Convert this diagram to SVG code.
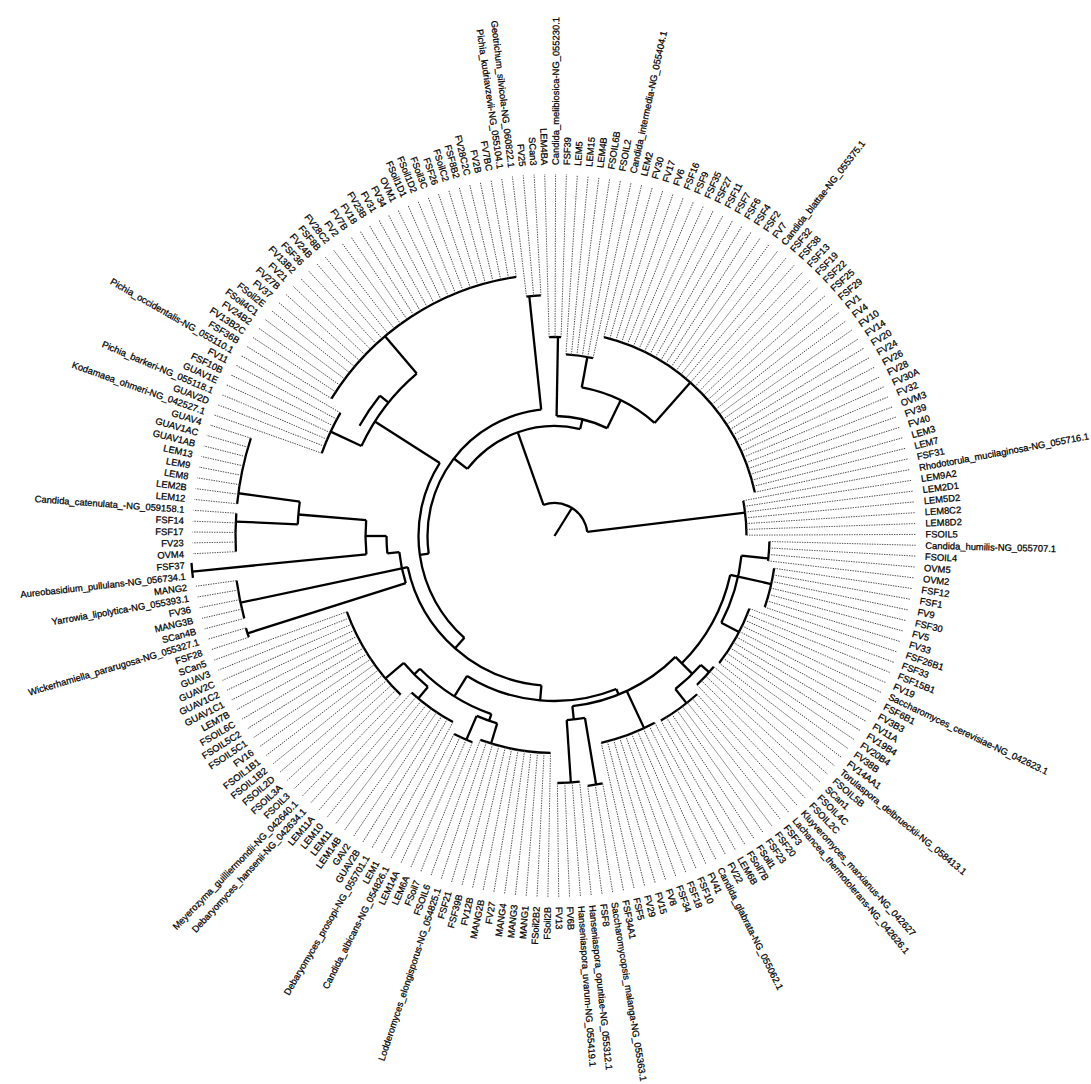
<svg xmlns="http://www.w3.org/2000/svg" width="1091" height="1084" viewBox="0 0 1091 1084">
<style>
.b{stroke:#000;stroke-width:2.3;fill:none}
.d{stroke:#444;stroke-width:0.9;stroke-dasharray:1.4 1.1}
text{font-family:"Liberation Sans",Arial,sans-serif;font-size:9.4px;fill:#000;stroke:#000;stroke-width:0.25}
.l{text-anchor:end}
</style>
<rect width="1091" height="1084" fill="#fff"/>
<g transform="translate(554.5,536)">
<g id="connectors" class="b">
<line x2="33" transform="rotate(-58)"/>
<circle r="33" pathLength="360" stroke-dasharray="103 400" transform="rotate(-110)"/>
<line x1="33" x2="192" transform="rotate(-7)"/>
<circle r="192" pathLength="360" stroke-dasharray="10.34 400" transform="rotate(-10.59)"/>
<line x1="33" x2="110" transform="rotate(-109.5)"/>
<circle r="110" pathLength="360" stroke-dasharray="65.9 400" transform="rotate(-142.4)"/>
<line x1="110" x2="120" transform="rotate(-76.5)"/>
<circle r="120" pathLength="360" stroke-dasharray="25 400" transform="rotate(-89)"/>
<line x1="120" x2="199" transform="rotate(-89)"/>
<circle r="199" pathLength="360" stroke-dasharray="3.44 400" transform="rotate(-91.55)"/>
<line x1="120" x2="151" transform="rotate(-64)"/>
<circle r="151" pathLength="360" stroke-dasharray="31.1 400" transform="rotate(-79.6)"/>
<line x1="151" x2="182" transform="rotate(-79.6)"/>
<circle r="182" pathLength="360" stroke-dasharray="8.61 400" transform="rotate(-86.38)"/>
<line x1="151" x2="205" transform="rotate(-48.5)"/>
<circle r="205" pathLength="360" stroke-dasharray="63.74 400" transform="rotate(-76.05)"/>
<line x1="110" x2="127" transform="rotate(-142.4)"/>
<circle r="127" pathLength="360" stroke-dasharray="92 400" transform="rotate(172)"/>
<line x1="127" x2="241" transform="rotate(-96)"/>
<circle r="241" pathLength="360" stroke-dasharray="3.45 400" transform="rotate(263.32)"/>
<line x1="127" x2="136" transform="rotate(172)"/>
<circle r="136" pathLength="360" stroke-dasharray="81 400" transform="rotate(131.5)"/>
<line x1="136" x2="213" transform="rotate(212.5)"/>
<circle r="213" pathLength="360" stroke-dasharray="24.7 400" transform="rotate(205)"/>
<line x1="213" x2="247" transform="rotate(205)"/>
<circle r="247" pathLength="360" stroke-dasharray="10.34 400" transform="rotate(199.58)"/>
<line x1="213" x2="262" transform="rotate(229.7)"/>
<circle r="262" pathLength="360" stroke-dasharray="49.96 400" transform="rotate(211.64)"/>
<line x1="213" x2="224" transform="rotate(218.8)"/>
<circle r="224" pathLength="360" stroke-dasharray="9.3 400" transform="rotate(209.5)"/>
<line x1="136" x2="150" transform="rotate(131.5)"/>
<circle r="150" pathLength="360" stroke-dasharray="73 400" transform="rotate(95)"/>
<line x1="150" x2="321" transform="rotate(168)"/>
<circle r="156" pathLength="360" stroke-dasharray="11.7 400" transform="rotate(162.4)"/>
<line x1="156" x2="322" transform="rotate(162.4)"/>
<circle r="322" pathLength="360" stroke-dasharray="1.73 400" transform="rotate(161.68)"/>
<circle r="321" pathLength="360" stroke-dasharray="6.89 400" transform="rotate(165.13)"/>
<line x1="156" x2="168" transform="rotate(174.1)"/>
<circle r="168" pathLength="360" stroke-dasharray="5.9 400" transform="rotate(174.1)"/>
<line x1="168" x2="189" transform="rotate(180)"/>
<circle r="189" pathLength="360" stroke-dasharray="10.4 400" transform="rotate(174.4)"/>
<line x1="189" x2="364" transform="rotate(174.4)"/>
<circle r="364" pathLength="360" stroke-dasharray="2.4 400" transform="rotate(173.4)"/>
<line x1="189" x2="257" transform="rotate(184.8)"/>
<circle r="257" pathLength="360" stroke-dasharray="5.1 400" transform="rotate(182.6)"/>
<line x1="257" x2="319" transform="rotate(182.6)"/>
<line x1="257" x2="319" transform="rotate(187.7)"/>
<circle r="319" pathLength="360" stroke-dasharray="6.89 400" transform="rotate(177.19)"/>
<circle r="319" pathLength="360" stroke-dasharray="12.06 400" transform="rotate(185.8)"/>
<line x1="150" x2="165" transform="rotate(95)"/>
<circle r="165" pathLength="360" stroke-dasharray="54 400" transform="rotate(68)"/>
<line x1="165" x2="189" transform="rotate(122)"/>
<circle r="189" pathLength="360" stroke-dasharray="25.9 400" transform="rotate(109.5)"/>
<line x1="189" x2="197" transform="rotate(135.4)"/>
<circle r="197" pathLength="360" stroke-dasharray="9.9 400" transform="rotate(130)"/>
<line x1="197" x2="221" transform="rotate(139.9)"/>
<circle r="221" pathLength="360" stroke-dasharray="25.84 400" transform="rotate(134.12)"/>
<line x1="197" x2="212" transform="rotate(130)"/>
<circle r="212" pathLength="360" stroke-dasharray="13.79 400" transform="rotate(118.61)"/>
<line x1="189" x2="196" transform="rotate(109.5)"/>
<circle r="196" pathLength="360" stroke-dasharray="6.4 400" transform="rotate(107)"/>
<line x1="196" x2="222" transform="rotate(113.4)"/>
<circle r="222" pathLength="360" stroke-dasharray="5.17 400" transform="rotate(111.72)"/>
<line x1="196" x2="217" transform="rotate(107)"/>
<circle r="217" pathLength="360" stroke-dasharray="18.95 400" transform="rotate(91.05)"/>
<line x1="165" x2="171" transform="rotate(68)"/>
<circle r="171" pathLength="360" stroke-dasharray="39 400" transform="rotate(45)"/>
<line x1="171" x2="184.5" transform="rotate(84)"/>
<circle r="184.5" pathLength="360" stroke-dasharray="5.7 400" transform="rotate(80.5)"/>
<line x1="184.5" x2="247" transform="rotate(86.2)"/>
<circle r="247" pathLength="360" stroke-dasharray="5.17 400" transform="rotate(84.16)"/>
<line x1="184.5" x2="252" transform="rotate(80.5)"/>
<circle r="252" pathLength="360" stroke-dasharray="3.45 400" transform="rotate(78.99)"/>
<line x1="171" x2="212" transform="rotate(65)"/>
<circle r="212" pathLength="360" stroke-dasharray="15.5 400" transform="rotate(61.77)"/>
<line x1="171" x2="195" transform="rotate(45)"/>
<circle r="180" pathLength="360" stroke-dasharray="32.5 400" transform="rotate(12.5)"/>
<circle r="195" pathLength="360" stroke-dasharray="10.3 400" transform="rotate(41.4)"/>
<line x1="195" x2="213" transform="rotate(51.7)"/>
<circle r="213" pathLength="360" stroke-dasharray="12.06 400" transform="rotate(47.98)"/>
<line x1="195" x2="206" transform="rotate(41.4)"/>
<circle r="206" pathLength="360" stroke-dasharray="6.89 400" transform="rotate(39.37)"/>
<line x1="180" x2="188" transform="rotate(12.5)"/>
<circle r="188" pathLength="360" stroke-dasharray="21.5 400" transform="rotate(6)"/>
<line x1="188" x2="208" transform="rotate(27.5)"/>
<circle r="208" pathLength="360" stroke-dasharray="17.23 400" transform="rotate(20.42)"/>
<line x1="188" x2="222" transform="rotate(12.5)"/>
<circle r="222" pathLength="360" stroke-dasharray="10.34 400" transform="rotate(8.36)"/>
<line x1="188" x2="215" transform="rotate(6)"/>
<circle r="215" pathLength="360" stroke-dasharray="5.17 400" transform="rotate(1.47)"/>
</g>
<g id="leaves">
<g id="n1" transform="rotate(-91.55)"><line class="d" x1="199" x2="362"/><text class="l" x="-371" y="3.2" transform="rotate(180)">LEM4BA</text></g>
<g id="n2" transform="rotate(-89.83)"><line class="d" x1="199" x2="362"/><text x="371" y="3.2">Candida_melibiosica-NG_055230.1</text></g>
<g id="n3" transform="rotate(-88.11)"><line class="d" x1="199" x2="362"/><text x="371" y="3.2">FSF39</text></g>
<g id="n4" transform="rotate(-86.38)"><line class="d" x1="182" x2="362"/><text x="371" y="3.2">LEM5</text></g>
<g id="n5" transform="rotate(-84.66)"><line class="d" x1="182" x2="362"/><text x="371" y="3.2">LEM15</text></g>
<g id="n6" transform="rotate(-82.94)"><line class="d" x1="182" x2="362"/><text x="371" y="3.2">LEM4B</text></g>
<g id="n7" transform="rotate(-81.22)"><line class="d" x1="182" x2="362"/><text x="371" y="3.2">FSOIL6B</text></g>
<g id="n8" transform="rotate(-79.49)"><line class="d" x1="182" x2="362"/><text x="371" y="3.2">FSOIL2</text></g>
<g id="n9" transform="rotate(-77.77)"><line class="d" x1="182" x2="362"/><text x="371" y="3.2">Candida_intermedia-NG_055404.1</text></g>
<g id="n10" transform="rotate(-76.05)"><line class="d" x1="205" x2="362"/><text x="371" y="3.2">LEM2</text></g>
<g id="n11" transform="rotate(-74.33)"><line class="d" x1="205" x2="362"/><text x="371" y="3.2">FV30</text></g>
<g id="n12" transform="rotate(-72.60)"><line class="d" x1="205" x2="362"/><text x="371" y="3.2">FV17</text></g>
<g id="n13" transform="rotate(-70.88)"><line class="d" x1="205" x2="362"/><text x="371" y="3.2">FV6</text></g>
<g id="n14" transform="rotate(-69.16)"><line class="d" x1="205" x2="362"/><text x="371" y="3.2">FSF16</text></g>
<g id="n15" transform="rotate(-67.43)"><line class="d" x1="205" x2="362"/><text x="371" y="3.2">FSF9</text></g>
<g id="n16" transform="rotate(-65.71)"><line class="d" x1="205" x2="362"/><text x="371" y="3.2">FSF35</text></g>
<g id="n17" transform="rotate(-63.99)"><line class="d" x1="205" x2="362"/><text x="371" y="3.2">FSF27</text></g>
<g id="n18" transform="rotate(-62.27)"><line class="d" x1="205" x2="362"/><text x="371" y="3.2">FSF11</text></g>
<g id="n19" transform="rotate(-60.54)"><line class="d" x1="205" x2="362"/><text x="371" y="3.2">FSF7</text></g>
<g id="n20" transform="rotate(-58.82)"><line class="d" x1="205" x2="362"/><text x="371" y="3.2">FSF6</text></g>
<g id="n21" transform="rotate(-57.10)"><line class="d" x1="205" x2="362"/><text x="371" y="3.2">FSF4</text></g>
<g id="n22" transform="rotate(-55.38)"><line class="d" x1="205" x2="362"/><text x="371" y="3.2">FSF2</text></g>
<g id="n23" transform="rotate(-53.65)"><line class="d" x1="205" x2="362"/><text x="371" y="3.2">FV7</text></g>
<g id="n24" transform="rotate(-51.93)"><line class="d" x1="205" x2="362"/><text x="371" y="3.2">Candida_blattae-NG_055375.1</text></g>
<g id="n25" transform="rotate(-50.21)"><line class="d" x1="205" x2="362"/><text x="371" y="3.2">FSF32</text></g>
<g id="n26" transform="rotate(-48.49)"><line class="d" x1="205" x2="362"/><text x="371" y="3.2">FSF38</text></g>
<g id="n27" transform="rotate(-46.76)"><line class="d" x1="205" x2="362"/><text x="371" y="3.2">FSF13</text></g>
<g id="n28" transform="rotate(-45.04)"><line class="d" x1="205" x2="362"/><text x="371" y="3.2">FSF19</text></g>
<g id="n29" transform="rotate(-43.32)"><line class="d" x1="205" x2="362"/><text x="371" y="3.2">FSF22</text></g>
<g id="n30" transform="rotate(-41.60)"><line class="d" x1="205" x2="362"/><text x="371" y="3.2">FSF25</text></g>
<g id="n31" transform="rotate(-39.87)"><line class="d" x1="205" x2="362"/><text x="371" y="3.2">FSF29</text></g>
<g id="n32" transform="rotate(-38.15)"><line class="d" x1="205" x2="362"/><text x="371" y="3.2">FV1</text></g>
<g id="n33" transform="rotate(-36.43)"><line class="d" x1="205" x2="362"/><text x="371" y="3.2">FV4</text></g>
<g id="n34" transform="rotate(-34.70)"><line class="d" x1="205" x2="362"/><text x="371" y="3.2">FV10</text></g>
<g id="n35" transform="rotate(-32.98)"><line class="d" x1="205" x2="362"/><text x="371" y="3.2">FV14</text></g>
<g id="n36" transform="rotate(-31.26)"><line class="d" x1="205" x2="362"/><text x="371" y="3.2">FV20</text></g>
<g id="n37" transform="rotate(-29.54)"><line class="d" x1="205" x2="362"/><text x="371" y="3.2">FV24</text></g>
<g id="n38" transform="rotate(-27.81)"><line class="d" x1="205" x2="362"/><text x="371" y="3.2">FV26</text></g>
<g id="n39" transform="rotate(-26.09)"><line class="d" x1="205" x2="362"/><text x="371" y="3.2">FV28</text></g>
<g id="n40" transform="rotate(-24.37)"><line class="d" x1="205" x2="362"/><text x="371" y="3.2">FV30A</text></g>
<g id="n41" transform="rotate(-22.65)"><line class="d" x1="205" x2="362"/><text x="371" y="3.2">FV32</text></g>
<g id="n42" transform="rotate(-20.92)"><line class="d" x1="205" x2="362"/><text x="371" y="3.2">OVM3</text></g>
<g id="n43" transform="rotate(-19.20)"><line class="d" x1="205" x2="362"/><text x="371" y="3.2">FV39</text></g>
<g id="n44" transform="rotate(-17.48)"><line class="d" x1="205" x2="362"/><text x="371" y="3.2">FV40</text></g>
<g id="n45" transform="rotate(-15.76)"><line class="d" x1="205" x2="362"/><text x="371" y="3.2">LEM3</text></g>
<g id="n46" transform="rotate(-14.03)"><line class="d" x1="205" x2="362"/><text x="371" y="3.2">LEM7</text></g>
<g id="n47" transform="rotate(-12.31)"><line class="d" x1="205" x2="362"/><text x="371" y="3.2">FSF31</text></g>
<g id="n48" transform="rotate(-10.59)"><line class="d" x1="192" x2="362"/><text x="371" y="3.2">Rhodotorula_mucilaginosa-NG_055716.1</text></g>
<g id="n49" transform="rotate(-8.86)"><line class="d" x1="192" x2="362"/><text x="371" y="3.2">LEM9A2</text></g>
<g id="n50" transform="rotate(-7.14)"><line class="d" x1="192" x2="362"/><text x="371" y="3.2">LEM2D1</text></g>
<g id="n51" transform="rotate(-5.42)"><line class="d" x1="192" x2="362"/><text x="371" y="3.2">LEM5D2</text></g>
<g id="n52" transform="rotate(-3.70)"><line class="d" x1="192" x2="362"/><text x="371" y="3.2">LEM8C2</text></g>
<g id="n53" transform="rotate(-1.97)"><line class="d" x1="192" x2="362"/><text x="371" y="3.2">LEM8D2</text></g>
<g id="n54" transform="rotate(-0.25)"><line class="d" x1="192" x2="362"/><text x="371" y="3.2">FSOIL5</text></g>
<g id="n55" transform="rotate(1.47)"><line class="d" x1="215" x2="362"/><text x="371" y="3.2">Candida_humilis-NG_055707.1</text></g>
<g id="n56" transform="rotate(3.19)"><line class="d" x1="215" x2="362"/><text x="371" y="3.2">FSOIL4</text></g>
<g id="n57" transform="rotate(4.92)"><line class="d" x1="215" x2="362"/><text x="371" y="3.2">OVM5</text></g>
<g id="n58" transform="rotate(6.64)"><line class="d" x1="215" x2="362"/><text x="371" y="3.2">OVM2</text></g>
<g id="n59" transform="rotate(8.36)"><line class="d" x1="222" x2="362"/><text x="371" y="3.2">FSF12</text></g>
<g id="n60" transform="rotate(10.08)"><line class="d" x1="222" x2="362"/><text x="371" y="3.2">FSF1</text></g>
<g id="n61" transform="rotate(11.81)"><line class="d" x1="222" x2="362"/><text x="371" y="3.2">FV9</text></g>
<g id="n62" transform="rotate(13.53)"><line class="d" x1="222" x2="362"/><text x="371" y="3.2">FSF30</text></g>
<g id="n63" transform="rotate(15.25)"><line class="d" x1="222" x2="362"/><text x="371" y="3.2">FV5</text></g>
<g id="n64" transform="rotate(16.98)"><line class="d" x1="222" x2="362"/><text x="371" y="3.2">FV33</text></g>
<g id="n65" transform="rotate(18.70)"><line class="d" x1="222" x2="362"/><text x="371" y="3.2">FSF26B1</text></g>
<g id="n66" transform="rotate(20.42)"><line class="d" x1="208" x2="362"/><text x="371" y="3.2">FSF33</text></g>
<g id="n67" transform="rotate(22.14)"><line class="d" x1="208" x2="362"/><text x="371" y="3.2">FSF15B1</text></g>
<g id="n68" transform="rotate(23.87)"><line class="d" x1="208" x2="362"/><text x="371" y="3.2">FV19</text></g>
<g id="n69" transform="rotate(25.59)"><line class="d" x1="208" x2="362"/><text x="371" y="3.2">Saccharomyces_cerevisiae-NG_042623.1</text></g>
<g id="n70" transform="rotate(27.31)"><line class="d" x1="208" x2="362"/><text x="371" y="3.2">FSF6B1</text></g>
<g id="n71" transform="rotate(29.03)"><line class="d" x1="208" x2="362"/><text x="371" y="3.2">FV3B3</text></g>
<g id="n72" transform="rotate(30.76)"><line class="d" x1="208" x2="362"/><text x="371" y="3.2">FV11A</text></g>
<g id="n73" transform="rotate(32.48)"><line class="d" x1="208" x2="362"/><text x="371" y="3.2">FV19B4</text></g>
<g id="n74" transform="rotate(34.20)"><line class="d" x1="208" x2="362"/><text x="371" y="3.2">FV20B4</text></g>
<g id="n75" transform="rotate(35.92)"><line class="d" x1="208" x2="362"/><text x="371" y="3.2">FV38B</text></g>
<g id="n76" transform="rotate(37.65)"><line class="d" x1="208" x2="362"/><text x="371" y="3.2">FV14AA1</text></g>
<g id="n77" transform="rotate(39.37)"><line class="d" x1="206" x2="362"/><text x="371" y="3.2">Torulaspora_delbrueckii-NG_058413.1</text></g>
<g id="n78" transform="rotate(41.09)"><line class="d" x1="206" x2="362"/><text x="371" y="3.2">FSOIL5B</text></g>
<g id="n79" transform="rotate(42.82)"><line class="d" x1="206" x2="362"/><text x="371" y="3.2">SCan1</text></g>
<g id="n80" transform="rotate(44.54)"><line class="d" x1="206" x2="362"/><text x="371" y="3.2">FSOIL4C</text></g>
<g id="n81" transform="rotate(46.26)"><line class="d" x1="206" x2="362"/><text x="371" y="3.2">FSOIL2C</text></g>
<g id="n82" transform="rotate(47.98)"><line class="d" x1="213" x2="362"/><text x="371" y="3.2">Kluyveromyces_marxianus-NG_042627</text></g>
<g id="n83" transform="rotate(49.71)"><line class="d" x1="213" x2="362"/><text x="371" y="3.2">Lachancea_thermotolerans-NG_042626.1</text></g>
<g id="n84" transform="rotate(51.43)"><line class="d" x1="213" x2="362"/><text x="371" y="3.2">FSF3</text></g>
<g id="n85" transform="rotate(53.15)"><line class="d" x1="213" x2="362"/><text x="371" y="3.2">FSF20</text></g>
<g id="n86" transform="rotate(54.87)"><line class="d" x1="213" x2="362"/><text x="371" y="3.2">FSF23</text></g>
<g id="n87" transform="rotate(56.60)"><line class="d" x1="213" x2="362"/><text x="371" y="3.2">FSoil1</text></g>
<g id="n88" transform="rotate(58.32)"><line class="d" x1="213" x2="362"/><text x="371" y="3.2">FSoil7B</text></g>
<g id="n89" transform="rotate(60.04)"><line class="d" x1="213" x2="362"/><text x="371" y="3.2">LEM6B</text></g>
<g id="n90" transform="rotate(61.77)"><line class="d" x1="212" x2="362"/><text x="371" y="3.2">FV22</text></g>
<g id="n91" transform="rotate(63.49)"><line class="d" x1="212" x2="362"/><text x="371" y="3.2">Candida_glabrata-NG_055062.1</text></g>
<g id="n92" transform="rotate(65.21)"><line class="d" x1="212" x2="362"/><text x="371" y="3.2">FV41</text></g>
<g id="n93" transform="rotate(66.93)"><line class="d" x1="212" x2="362"/><text x="371" y="3.2">FSF10</text></g>
<g id="n94" transform="rotate(68.66)"><line class="d" x1="212" x2="362"/><text x="371" y="3.2">FSF18</text></g>
<g id="n95" transform="rotate(70.38)"><line class="d" x1="212" x2="362"/><text x="371" y="3.2">FSF34</text></g>
<g id="n96" transform="rotate(72.10)"><line class="d" x1="212" x2="362"/><text x="371" y="3.2">FV8</text></g>
<g id="n97" transform="rotate(73.82)"><line class="d" x1="212" x2="362"/><text x="371" y="3.2">FV15</text></g>
<g id="n98" transform="rotate(75.55)"><line class="d" x1="212" x2="362"/><text x="371" y="3.2">FV29</text></g>
<g id="n99" transform="rotate(77.27)"><line class="d" x1="212" x2="362"/><text x="371" y="3.2">FSF5</text></g>
<g id="n100" transform="rotate(78.99)"><line class="d" x1="252" x2="362"/><text x="371" y="3.2">FSF34A1</text></g>
<g id="n101" transform="rotate(80.72)"><line class="d" x1="252" x2="362"/><text x="371" y="3.2">Saccharomycopsis_malanga-NG_055363.1</text></g>
<g id="n102" transform="rotate(82.44)"><line class="d" x1="252" x2="362"/><text x="371" y="3.2">FSF8</text></g>
<g id="n103" transform="rotate(84.16)"><line class="d" x1="247" x2="362"/><text x="371" y="3.2">Hanseniaspora_opuntiae-NG_055312.1</text></g>
<g id="n104" transform="rotate(85.88)"><line class="d" x1="247" x2="362"/><text x="371" y="3.2">Hanseniaspora_uvarum-NG_055419.1</text></g>
<g id="n105" transform="rotate(87.61)"><line class="d" x1="247" x2="362"/><text x="371" y="3.2">FV6B</text></g>
<g id="n106" transform="rotate(89.33)"><line class="d" x1="247" x2="362"/><text x="371" y="3.2">FV13</text></g>
<g id="n107" transform="rotate(91.05)"><line class="d" x1="217" x2="362"/><text class="l" x="-371" y="3.2" transform="rotate(180)">FSoil2B</text></g>
<g id="n108" transform="rotate(92.77)"><line class="d" x1="217" x2="362"/><text class="l" x="-371" y="3.2" transform="rotate(180)">FSoil2B2</text></g>
<g id="n109" transform="rotate(94.50)"><line class="d" x1="217" x2="362"/><text class="l" x="-371" y="3.2" transform="rotate(180)">MANG1</text></g>
<g id="n110" transform="rotate(96.22)"><line class="d" x1="217" x2="362"/><text class="l" x="-371" y="3.2" transform="rotate(180)">MANG3</text></g>
<g id="n111" transform="rotate(97.94)"><line class="d" x1="217" x2="362"/><text class="l" x="-371" y="3.2" transform="rotate(180)">MANG4</text></g>
<g id="n112" transform="rotate(99.66)"><line class="d" x1="217" x2="362"/><text class="l" x="-371" y="3.2" transform="rotate(180)">FV27</text></g>
<g id="n113" transform="rotate(101.39)"><line class="d" x1="217" x2="362"/><text class="l" x="-371" y="3.2" transform="rotate(180)">MANG2B</text></g>
<g id="n114" transform="rotate(103.11)"><line class="d" x1="217" x2="362"/><text class="l" x="-371" y="3.2" transform="rotate(180)">FV12B</text></g>
<g id="n115" transform="rotate(104.83)"><line class="d" x1="217" x2="362"/><text class="l" x="-371" y="3.2" transform="rotate(180)">FSF39B</text></g>
<g id="n116" transform="rotate(106.56)"><line class="d" x1="217" x2="362"/><text class="l" x="-371" y="3.2" transform="rotate(180)">FSF21</text></g>
<g id="n117" transform="rotate(108.28)"><line class="d" x1="217" x2="362"/><text class="l" x="-371" y="3.2" transform="rotate(180)">Lodderomyces_elongisporus-NG_054825.1</text></g>
<g id="n118" transform="rotate(110.00)"><line class="d" x1="217" x2="362"/><text class="l" x="-371" y="3.2" transform="rotate(180)">FSOIL6</text></g>
<g id="n119" transform="rotate(111.72)"><line class="d" x1="222" x2="362"/><text class="l" x="-371" y="3.2" transform="rotate(180)">FSoil7</text></g>
<g id="n120" transform="rotate(113.45)"><line class="d" x1="222" x2="362"/><text class="l" x="-371" y="3.2" transform="rotate(180)">LEM6A</text></g>
<g id="n121" transform="rotate(115.17)"><line class="d" x1="222" x2="362"/><text class="l" x="-371" y="3.2" transform="rotate(180)">LEM14A</text></g>
<g id="n122" transform="rotate(116.89)"><line class="d" x1="222" x2="362"/><text class="l" x="-371" y="3.2" transform="rotate(180)">Candida_albicans-NG_054826.1</text></g>
<g id="n123" transform="rotate(118.61)"><line class="d" x1="212" x2="362"/><text class="l" x="-371" y="3.2" transform="rotate(180)">LEM1</text></g>
<g id="n124" transform="rotate(120.34)"><line class="d" x1="212" x2="362"/><text class="l" x="-371" y="3.2" transform="rotate(180)">Debaryomyces_prosopi-NG_055701.1</text></g>
<g id="n125" transform="rotate(122.06)"><line class="d" x1="212" x2="362"/><text class="l" x="-371" y="3.2" transform="rotate(180)">GUAV2B</text></g>
<g id="n126" transform="rotate(123.78)"><line class="d" x1="212" x2="362"/><text class="l" x="-371" y="3.2" transform="rotate(180)">GAV2</text></g>
<g id="n127" transform="rotate(125.51)"><line class="d" x1="212" x2="362"/><text class="l" x="-371" y="3.2" transform="rotate(180)">LEM14B</text></g>
<g id="n128" transform="rotate(127.23)"><line class="d" x1="212" x2="362"/><text class="l" x="-371" y="3.2" transform="rotate(180)">LEM11</text></g>
<g id="n129" transform="rotate(128.95)"><line class="d" x1="212" x2="362"/><text class="l" x="-371" y="3.2" transform="rotate(180)">LEM10</text></g>
<g id="n130" transform="rotate(130.67)"><line class="d" x1="212" x2="362"/><text class="l" x="-371" y="3.2" transform="rotate(180)">LEM11A</text></g>
<g id="n131" transform="rotate(132.40)"><line class="d" x1="212" x2="362"/><text class="l" x="-371" y="3.2" transform="rotate(180)">Debaryomyces_hansenii-NG_042634.1</text></g>
<g id="n132" transform="rotate(134.12)"><line class="d" x1="221" x2="362"/><text class="l" x="-371" y="3.2" transform="rotate(180)">Meyerozyma_guilliermondii-NG_042640.1</text></g>
<g id="n133" transform="rotate(135.84)"><line class="d" x1="221" x2="362"/><text class="l" x="-371" y="3.2" transform="rotate(180)">FSOIL3</text></g>
<g id="n134" transform="rotate(137.56)"><line class="d" x1="221" x2="362"/><text class="l" x="-371" y="3.2" transform="rotate(180)">FSOIL3A</text></g>
<g id="n135" transform="rotate(139.29)"><line class="d" x1="221" x2="362"/><text class="l" x="-371" y="3.2" transform="rotate(180)">FSOIL2D</text></g>
<g id="n136" transform="rotate(141.01)"><line class="d" x1="221" x2="362"/><text class="l" x="-371" y="3.2" transform="rotate(180)">FSOIL1B2</text></g>
<g id="n137" transform="rotate(142.73)"><line class="d" x1="221" x2="362"/><text class="l" x="-371" y="3.2" transform="rotate(180)">FSOIL1B1</text></g>
<g id="n138" transform="rotate(144.46)"><line class="d" x1="221" x2="362"/><text class="l" x="-371" y="3.2" transform="rotate(180)">FV16</text></g>
<g id="n139" transform="rotate(146.18)"><line class="d" x1="221" x2="362"/><text class="l" x="-371" y="3.2" transform="rotate(180)">FSOIL5C1</text></g>
<g id="n140" transform="rotate(147.90)"><line class="d" x1="221" x2="362"/><text class="l" x="-371" y="3.2" transform="rotate(180)">FSOIL5C2</text></g>
<g id="n141" transform="rotate(149.62)"><line class="d" x1="221" x2="362"/><text class="l" x="-371" y="3.2" transform="rotate(180)">FSOIL6C</text></g>
<g id="n142" transform="rotate(151.35)"><line class="d" x1="221" x2="362"/><text class="l" x="-371" y="3.2" transform="rotate(180)">LEM7B</text></g>
<g id="n143" transform="rotate(153.07)"><line class="d" x1="221" x2="362"/><text class="l" x="-371" y="3.2" transform="rotate(180)">GUAV1C1</text></g>
<g id="n144" transform="rotate(154.79)"><line class="d" x1="221" x2="362"/><text class="l" x="-371" y="3.2" transform="rotate(180)">GUAV1C2</text></g>
<g id="n145" transform="rotate(156.51)"><line class="d" x1="221" x2="362"/><text class="l" x="-371" y="3.2" transform="rotate(180)">GUAV2C</text></g>
<g id="n146" transform="rotate(158.24)"><line class="d" x1="221" x2="362"/><text class="l" x="-371" y="3.2" transform="rotate(180)">GUAV3</text></g>
<g id="n147" transform="rotate(159.96)"><line class="d" x1="221" x2="362"/><text class="l" x="-371" y="3.2" transform="rotate(180)">SCan5</text></g>
<g id="n148" transform="rotate(161.68)"><line class="d" x1="322" x2="362"/><text class="l" x="-371" y="3.2" transform="rotate(180)">FSF28</text></g>
<g id="n149" transform="rotate(163.41)"><line class="d" x1="322" x2="362"/><text class="l" x="-371" y="3.2" transform="rotate(180)">Wickerhamiella_pararugosa-NG_055327.1</text></g>
<g id="n150" transform="rotate(165.13)"><line class="d" x1="321" x2="362"/><text class="l" x="-371" y="3.2" transform="rotate(180)">SCan4B</text></g>
<g id="n151" transform="rotate(166.85)"><line class="d" x1="321" x2="362"/><text class="l" x="-371" y="3.2" transform="rotate(180)">MANG3B</text></g>
<g id="n152" transform="rotate(168.57)"><line class="d" x1="321" x2="362"/><text class="l" x="-371" y="3.2" transform="rotate(180)">FV36</text></g>
<g id="n153" transform="rotate(170.30)"><line class="d" x1="321" x2="362"/><text class="l" x="-371" y="3.2" transform="rotate(180)">Yarrowia_lipolytica-NG_055393.1</text></g>
<g id="n154" transform="rotate(172.02)"><line class="d" x1="321" x2="362"/><text class="l" x="-371" y="3.2" transform="rotate(180)">MANG2</text></g>
<g id="n155" transform="rotate(173.74)"><text class="l" x="-371" y="3.2" transform="rotate(180)">Aureobasidium_pullulans-NG_056734.1</text></g>
<g id="n156" transform="rotate(175.46)"><text class="l" x="-371" y="3.2" transform="rotate(180)">FSF37</text></g>
<g id="n157" transform="rotate(177.19)"><line class="d" x1="319" x2="362"/><text class="l" x="-371" y="3.2" transform="rotate(180)">OVM4</text></g>
<g id="n158" transform="rotate(178.91)"><line class="d" x1="319" x2="362"/><text class="l" x="-371" y="3.2" transform="rotate(180)">FV23</text></g>
<g id="n159" transform="rotate(180.63)"><line class="d" x1="319" x2="362"/><text class="l" x="-371" y="3.2" transform="rotate(180)">FSF17</text></g>
<g id="n160" transform="rotate(182.35)"><line class="d" x1="319" x2="362"/><text class="l" x="-371" y="3.2" transform="rotate(180)">FSF14</text></g>
<g id="n161" transform="rotate(184.08)"><line class="d" x1="319" x2="362"/><text class="l" x="-371" y="3.2" transform="rotate(180)">Candida_catenulata_-NG_059158.1</text></g>
<g id="n162" transform="rotate(185.80)"><line class="d" x1="319" x2="362"/><text class="l" x="-371" y="3.2" transform="rotate(180)">LEM12</text></g>
<g id="n163" transform="rotate(187.52)"><line class="d" x1="319" x2="362"/><text class="l" x="-371" y="3.2" transform="rotate(180)">LEM2B</text></g>
<g id="n164" transform="rotate(189.25)"><line class="d" x1="319" x2="362"/><text class="l" x="-371" y="3.2" transform="rotate(180)">LEM8</text></g>
<g id="n165" transform="rotate(190.97)"><line class="d" x1="319" x2="362"/><text class="l" x="-371" y="3.2" transform="rotate(180)">LEM9</text></g>
<g id="n166" transform="rotate(192.69)"><line class="d" x1="319" x2="362"/><text class="l" x="-371" y="3.2" transform="rotate(180)">LEM13</text></g>
<g id="n167" transform="rotate(194.41)"><line class="d" x1="319" x2="362"/><text class="l" x="-371" y="3.2" transform="rotate(180)">GUAV1AB</text></g>
<g id="n168" transform="rotate(196.14)"><line class="d" x1="319" x2="362"/><text class="l" x="-371" y="3.2" transform="rotate(180)">GUAV1AC</text></g>
<g id="n169" transform="rotate(197.86)"><line class="d" x1="319" x2="362"/><text class="l" x="-371" y="3.2" transform="rotate(180)">GUAV4</text></g>
<g id="n170" transform="rotate(199.58)"><line class="d" x1="247" x2="362"/><text class="l" x="-371" y="3.2" transform="rotate(180)">Kodamaea_ohmeri-NG_042527.1</text></g>
<g id="n171" transform="rotate(201.30)"><line class="d" x1="247" x2="362"/><text class="l" x="-371" y="3.2" transform="rotate(180)">GUAV2D</text></g>
<g id="n172" transform="rotate(203.03)"><line class="d" x1="247" x2="362"/><text class="l" x="-371" y="3.2" transform="rotate(180)">Pichia_barkeri-NG_055118.1</text></g>
<g id="n173" transform="rotate(204.75)"><line class="d" x1="247" x2="362"/><text class="l" x="-371" y="3.2" transform="rotate(180)">GUAV1E</text></g>
<g id="n174" transform="rotate(206.47)"><line class="d" x1="247" x2="362"/><text class="l" x="-371" y="3.2" transform="rotate(180)">FSF10B</text></g>
<g id="n175" transform="rotate(208.20)"><line class="d" x1="247" x2="362"/><text class="l" x="-371" y="3.2" transform="rotate(180)">FV11</text></g>
<g id="n176" transform="rotate(209.92)"><line class="d" x1="247" x2="362"/><text class="l" x="-371" y="3.2" transform="rotate(180)">Pichia_occidentalis-NG_055110.1</text></g>
<g id="n177" transform="rotate(211.64)"><line class="d" x1="262" x2="362"/><text class="l" x="-371" y="3.2" transform="rotate(180)">FSF36B</text></g>
<g id="n178" transform="rotate(213.36)"><line class="d" x1="262" x2="362"/><text class="l" x="-371" y="3.2" transform="rotate(180)">FV13B2C</text></g>
<g id="n179" transform="rotate(215.09)"><line class="d" x1="262" x2="362"/><text class="l" x="-371" y="3.2" transform="rotate(180)">FV24B2</text></g>
<g id="n180" transform="rotate(216.81)"><line class="d" x1="262" x2="362"/><text class="l" x="-371" y="3.2" transform="rotate(180)">FSoil4C1</text></g>
<g id="n181" transform="rotate(218.53)"><line class="d" x1="262" x2="362"/><text class="l" x="-371" y="3.2" transform="rotate(180)">FSoil2E</text></g>
<g id="n182" transform="rotate(220.25)"><line class="d" x1="262" x2="362"/><text class="l" x="-371" y="3.2" transform="rotate(180)">FV37</text></g>
<g id="n183" transform="rotate(221.98)"><line class="d" x1="262" x2="362"/><text class="l" x="-371" y="3.2" transform="rotate(180)">FV27B</text></g>
<g id="n184" transform="rotate(223.70)"><line class="d" x1="262" x2="362"/><text class="l" x="-371" y="3.2" transform="rotate(180)">FV21</text></g>
<g id="n185" transform="rotate(225.42)"><line class="d" x1="262" x2="362"/><text class="l" x="-371" y="3.2" transform="rotate(180)">FV13B2</text></g>
<g id="n186" transform="rotate(227.15)"><line class="d" x1="262" x2="362"/><text class="l" x="-371" y="3.2" transform="rotate(180)">FSF36</text></g>
<g id="n187" transform="rotate(228.87)"><line class="d" x1="262" x2="362"/><text class="l" x="-371" y="3.2" transform="rotate(180)">FV24B</text></g>
<g id="n188" transform="rotate(230.59)"><line class="d" x1="262" x2="362"/><text class="l" x="-371" y="3.2" transform="rotate(180)">FSF8B</text></g>
<g id="n189" transform="rotate(232.31)"><line class="d" x1="262" x2="362"/><text class="l" x="-371" y="3.2" transform="rotate(180)">FV28C2</text></g>
<g id="n190" transform="rotate(234.04)"><line class="d" x1="262" x2="362"/><text class="l" x="-371" y="3.2" transform="rotate(180)">FV2</text></g>
<g id="n191" transform="rotate(235.76)"><line class="d" x1="262" x2="362"/><text class="l" x="-371" y="3.2" transform="rotate(180)">FV7B</text></g>
<g id="n192" transform="rotate(237.48)"><line class="d" x1="262" x2="362"/><text class="l" x="-371" y="3.2" transform="rotate(180)">FV18</text></g>
<g id="n193" transform="rotate(239.20)"><line class="d" x1="262" x2="362"/><text class="l" x="-371" y="3.2" transform="rotate(180)">FV23B</text></g>
<g id="n194" transform="rotate(240.93)"><line class="d" x1="262" x2="362"/><text class="l" x="-371" y="3.2" transform="rotate(180)">FV31</text></g>
<g id="n195" transform="rotate(242.65)"><line class="d" x1="262" x2="362"/><text class="l" x="-371" y="3.2" transform="rotate(180)">FV34</text></g>
<g id="n196" transform="rotate(244.37)"><line class="d" x1="262" x2="362"/><text class="l" x="-371" y="3.2" transform="rotate(180)">OVM1</text></g>
<g id="n197" transform="rotate(246.10)"><line class="d" x1="262" x2="362"/><text class="l" x="-371" y="3.2" transform="rotate(180)">FSoil1D1</text></g>
<g id="n198" transform="rotate(247.82)"><line class="d" x1="262" x2="362"/><text class="l" x="-371" y="3.2" transform="rotate(180)">FSoil1D2</text></g>
<g id="n199" transform="rotate(249.54)"><line class="d" x1="262" x2="362"/><text class="l" x="-371" y="3.2" transform="rotate(180)">FSoil3C</text></g>
<g id="n200" transform="rotate(251.26)"><line class="d" x1="262" x2="362"/><text class="l" x="-371" y="3.2" transform="rotate(180)">FSF26</text></g>
<g id="n201" transform="rotate(252.99)"><line class="d" x1="262" x2="362"/><text class="l" x="-371" y="3.2" transform="rotate(180)">FSoilC2</text></g>
<g id="n202" transform="rotate(254.71)"><line class="d" x1="262" x2="362"/><text class="l" x="-371" y="3.2" transform="rotate(180)">FSF8B2</text></g>
<g id="n203" transform="rotate(256.43)"><line class="d" x1="262" x2="362"/><text class="l" x="-371" y="3.2" transform="rotate(180)">FV28C2C</text></g>
<g id="n204" transform="rotate(258.15)"><line class="d" x1="262" x2="362"/><text class="l" x="-371" y="3.2" transform="rotate(180)">FV2B</text></g>
<g id="n205" transform="rotate(259.88)"><line class="d" x1="262" x2="362"/><text class="l" x="-371" y="3.2" transform="rotate(180)">FV7BC</text></g>
<g id="n206" transform="rotate(261.60)"><line class="d" x1="262" x2="362"/><text class="l" x="-371" y="3.2" transform="rotate(180)">Pichia_kudriavzevii-NG_055104.1</text></g>
<g id="n207" transform="rotate(263.32)"><line class="d" x1="241" x2="362"/><text class="l" x="-371" y="3.2" transform="rotate(180)">Geotrichum_silvicola-NG_060822.1</text></g>
<g id="n208" transform="rotate(265.04)"><line class="d" x1="241" x2="362"/><text class="l" x="-371" y="3.2" transform="rotate(180)">FV25</text></g>
<g id="n209" transform="rotate(266.77)"><line class="d" x1="241" x2="362"/><text class="l" x="-371" y="3.2" transform="rotate(180)">SCan3</text></g>
</g>
</g>
</svg>
